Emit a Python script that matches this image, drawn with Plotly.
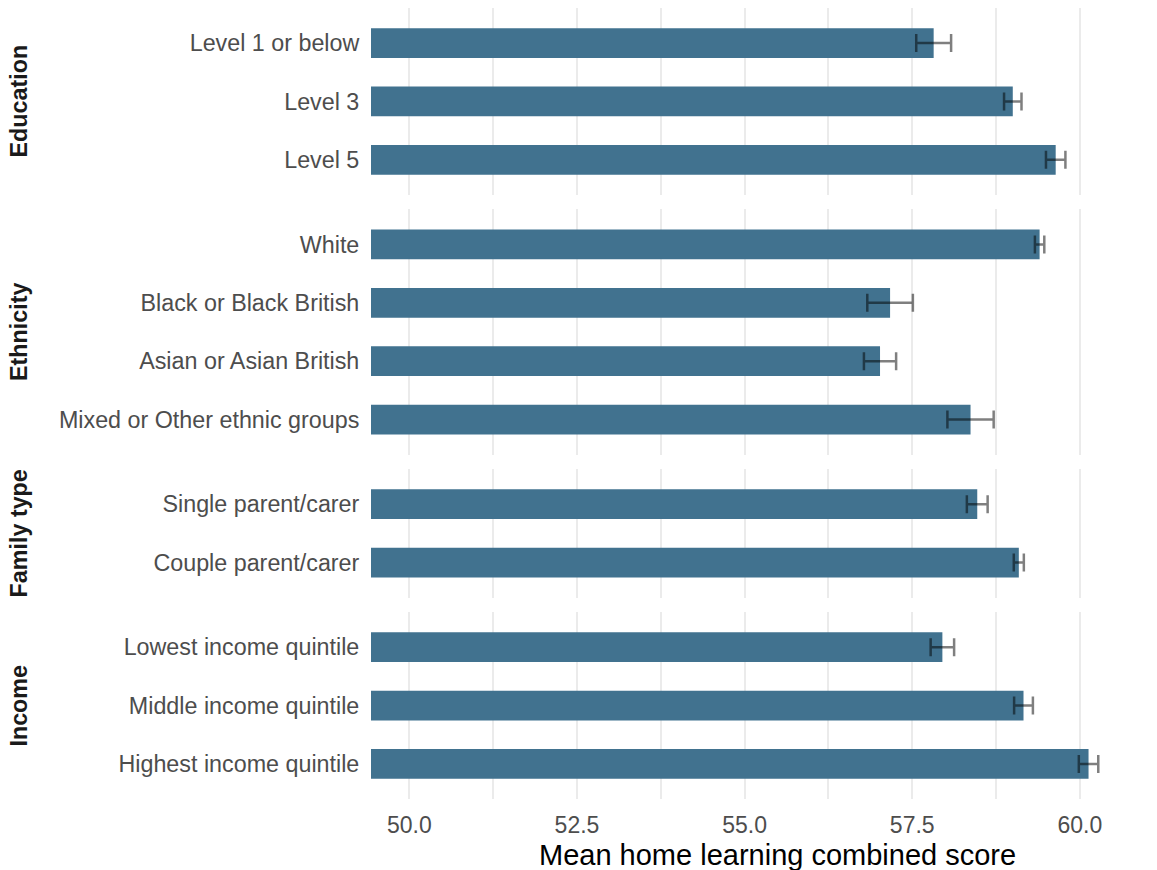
import plotly.graph_objects as go

# Mean home learning combined score by group, with confidence half-widths
education_labels = ["Level 1 or below", "Level 3", "Level 5"]
education_means = [57.82, 59.00, 59.64]
education_err = [0.26, 0.13, 0.145]

ethnicity_labels = ["White", "Black or Black British", "Asian or Asian British",
                    "Mixed or Other ethnic groups"]
ethnicity_means = [59.40, 57.17, 57.02, 58.37]
ethnicity_err = [0.07, 0.34, 0.24, 0.345]

family_labels = ["Single parent/carer", "Couple parent/carer"]
family_means = [58.47, 59.09]
family_err = [0.155, 0.075]

income_labels = ["Lowest income quintile", "Middle income quintile", "Highest income quintile"]
income_means = [57.95, 59.16, 60.13]
income_err = [0.175, 0.14, 0.145]

facet_names = ["Education", "Ethnicity", "Family type", "Income"]
x_tickvals = [50, 52.5, 55, 57.5, 60]
x_ticktext = ["50.0", "52.5", "55.0", "57.5", "60.0"]

facets = [
    (education_labels, education_means, education_err),
    (ethnicity_labels, ethnicity_means, ethnicity_err),
    (family_labels, family_means, family_err),
    (income_labels, income_means, income_err),
]

BAR = "#41728f"
FONT = "Liberation Sans, Arial, sans-serif"
W, H = 1157, 870
M_L, M_R, M_T, M_B = 371, 47, 8, 71
X_RANGE = [49.428, 60.45]

plot_h = H - M_T - M_B
gap_px = 14.5
expand = 0.6
units = [len(f[0]) - 1 + 2 * expand for f in facets]
row_px = (plot_h - gap_px * (len(facets) - 1)) / sum(units)

fig = go.Figure()
layout = {}
top = 0.0
for i, ((labels, means, errs), u) in enumerate(zip(facets, units)):
    idx = i + 1
    xa = "x" if idx == 1 else f"x{idx}"
    ya = "y" if idx == 1 else f"y{idx}"
    height = u * row_px
    d_top = 1 - top / plot_h
    d_bot = 1 - (top + height) / plot_h
    top += height + gap_px

    fig.add_trace(go.Bar(
        x=means, y=labels, orientation="h", width=0.51,
        marker=dict(color=BAR, line=dict(width=0)),
        base=0,
        error_x=dict(type="data", array=errs, visible=True,
                     color="rgba(0,0,0,0.5)", thickness=2.5, width=9),
        xaxis=xa, yaxis=ya, showlegend=False, hoverinfo="x+y",
    ))

    n = len(labels)
    layout[f"yaxis{idx if idx > 1 else ''}"] = dict(
        domain=[max(d_bot, 0), min(d_top, 1)], anchor=xa,
        type="category", categoryorder="array", categoryarray=labels,
        range=[n - 1 + expand, -expand],
        showgrid=False, zeroline=False, showline=False,
        ticks="outside", ticklen=6, tickcolor="rgba(0,0,0,0)",
        tickfont=dict(family=FONT, size=23.3, color="#4d4d4d"),
    )
    layout[f"xaxis{idx if idx > 1 else ''}"] = dict(
        domain=[0, 1], anchor=ya, range=X_RANGE,
        matches=None if idx == 1 else "x",
        tickvals=x_tickvals, ticktext=x_ticktext,
        showticklabels=(idx == len(facets)),
        showgrid=True, gridcolor="#ebebeb", gridwidth=2,
        minor=dict(tick0=50, dtick=1.25, showgrid=True, gridcolor="#ebebeb", gridwidth=1.5),
        zeroline=False, showline=False,
        ticks="outside", ticklen=5, tickcolor="rgba(0,0,0,0)",
        tickfont=dict(family=FONT, size=23, color="#4d4d4d"),
    )

    fig.add_annotation(
        text=f"<b>{facet_names[i]}</b>", textangle=-90,
        xref="paper", x=(19 - M_L) / (W - M_L - M_R), xanchor="center",
        yref=f"{ya} domain", y=0.5, yanchor="middle",
        showarrow=False, font=dict(family=FONT, size=23.3, color="#1a1a1a"),
    )

fig.add_annotation(
    text="Mean home learning combined score",
    xref="paper", x=(777.5 - M_L) / (W - M_L - M_R), xanchor="center",
    yref="paper", y=-(855 - (H - M_B)) / plot_h, yanchor="middle",
    showarrow=False, font=dict(family=FONT, size=29, color="#000000"),
)

fig.update_layout(
    **layout,
    width=W, height=H,
    margin=dict(l=M_L, r=M_R, t=M_T, b=M_B),
    plot_bgcolor="white", paper_bgcolor="white",
    bargap=0.5,
    font=dict(family=FONT),
)

fig.write_html("out.html")
